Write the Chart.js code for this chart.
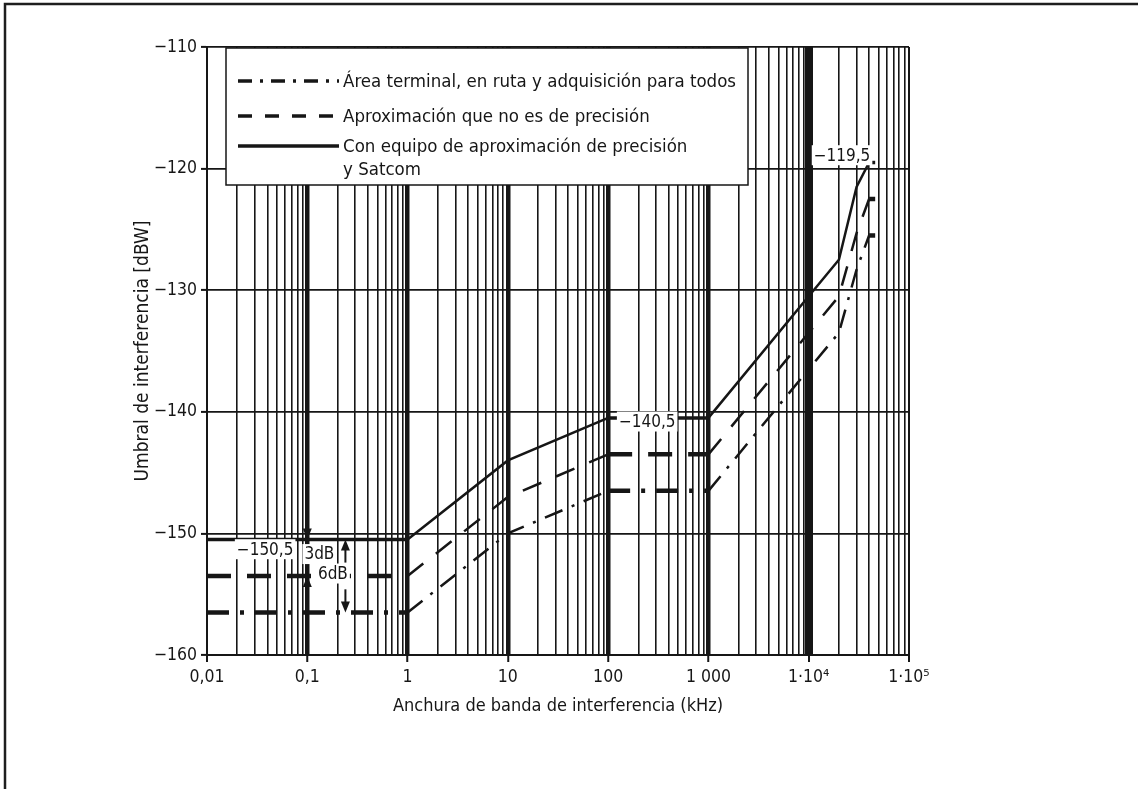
<!DOCTYPE html>
<html>
<head>
<meta charset="utf-8">
<title>Umbral de interferencia</title>
<script src="https://cdn.jsdelivr.net/npm/chart.js@4.4.1/dist/chart.umd.min.js"></script>
<style>
  html, body { margin: 0; padding: 0; background: #fff; }
  #wrap { width: 1138px; height: 789px; }
</style>
</head>
<body>
<div id="wrap"><canvas id="chart" width="1138" height="789"></canvas></div>
<script>
// Interference threshold vs. interference bandwidth (log x axis)

const FONT = "'Liberation Sans Narrow', 'DejaVu Sans Condensed', 'Arial Narrow', sans-serif";
const INK = '#161616';

// ============ DATA ============

const bandwidthKHz = [0.01, 1, 10, 100, 1000, 10000, 20000, 30000, 40000, 46000];
const thresholdAllPhases = [-156.5, -156.5, -150, -146.5, -146.5, -136.5, -133.5, -128.3, -125.5, -125.5];
const thresholdNonPrecision = [-153.5, -153.5, -147, -143.5, -143.5, -133.5, -130.5, -125.3, -122.5, -122.5];
const thresholdPrecision = [-150.5, -150.5, -144, -140.5, -140.5, -130.5, -127.5, -121.5, -119.5, -119.5];

const seriesNames = [
  'Área terminal, en ruta y adquisición para todos',
  'Aproximación que no es de precisión',
  'Con equipo de aproximación de precisión\ny Satcom'
];

const xTickValues = [0.01, 0.1, 1, 10, 100, 1000, 1e4, 1e5];
const xTickLabels = ['0,01', '0,1', '1', '10', '100', '1 000', '1·10⁴', '1·10⁵'];
const yTickValues = [-160, -150, -140, -130, -120, -110];
const yTickLabels = ['−160', '−150', '−140', '−130', '−120', '−110'];

// value notes written on the plot
const noteX = [0.038, 245, 21500, 0.132, 0.18];
const noteY = [-151.3, -140.8, -118.9, -151.7, -153.3];
const noteText = ['−150,5', '−140,5', '−119,5', '3dB', '6dB'];

// dB offset arrows (tip at arrowTo)
const arrowX = [0.1, 0.1, 0.24, 0.24];
const arrowFrom = [-148.2, -155.8, -152.4, -154.6];
const arrowTo = [-150.5, -153.5, -150.5, -156.5];

// ============ HELPERS ============

function isDecade(v) {
  const l = Math.log10(v);
  return Math.abs(l - Math.round(l)) < 1e-9;
}

function xGridWidth(v) {
  if (v === undefined) return 1.5;
  if (Math.abs(v - 1e4) < 1e-6) return 8;
  if (Math.abs(v - 0.01) < 1e-9 || Math.abs(v - 1e5) < 1e-6) return 2;
  if (isDecade(v)) return 4.5;
  return 1.6;
}

function isFlat(ctx) {
  return ctx.p0.parsed.y === ctx.p1.parsed.y;
}

function toPoints(ys) {
  return bandwidthKHz.map((x, i) => ({ x: x, y: ys[i] }));
}

function allXTicks() {
  const ticks = [];
  for (let d = 0; d < xTickValues.length - 1; d++) {
    for (let m = 1; m <= 9; m++) {
      ticks.push({ value: +(xTickValues[d] * m).toPrecision(6) });
    }
  }
  ticks.push({ value: xTickValues[xTickValues.length - 1] });
  return ticks;
}

// ============ PLUGIN: frame, legend, notes ============

const decorations = {
  id: 'decorations',
  beforeDraw(chart) {
    const ctx = chart.ctx;
    ctx.save();
    ctx.fillStyle = '#fff';
    ctx.fillRect(0, 0, chart.width, chart.height);
    ctx.strokeStyle = '#1e1e1e';
    ctx.lineWidth = 2.5;
    ctx.beginPath();
    ctx.moveTo(5, chart.height);
    ctx.lineTo(5, 4);
    ctx.lineTo(chart.width, 4);
    ctx.stroke();
    ctx.restore();
  },
  afterDatasetsDraw(chart) {
    const ctx = chart.ctx;
    const area = chart.chartArea;
    const xs = chart.scales.x, ys = chart.scales.y;
    ctx.save();

    // legend box
    const bx = area.left + 19, by = area.top + 1, bw = 522, bh = 137;
    ctx.fillStyle = '#fff';
    ctx.fillRect(bx, by, bw, bh);
    ctx.strokeStyle = INK;
    ctx.lineWidth = 1.5;
    ctx.strokeRect(bx, by, bw, bh);

    const rowY = [by + 33, by + 68, by + 98];
    ctx.font = '18.5px ' + FONT;
    ctx.textBaseline = 'middle';
    ctx.textAlign = 'left';
    chart.data.datasets.forEach((ds, i) => {
      ctx.strokeStyle = INK;
      ctx.lineWidth = 3.5;
      ctx.setLineDash(ds.legendDash);
      ctx.beginPath();
      ctx.moveTo(bx + 12, rowY[i]);
      ctx.lineTo(bx + 113, rowY[i]);
      ctx.stroke();
      ctx.setLineDash([]);
      ctx.fillStyle = INK;
      seriesNames[i].split('\n').forEach((line, k) => {
        ctx.fillText(line, bx + 117, rowY[i] + 1 + k * 23);
      });
    });

    // value notes with white background
    ctx.font = '17px ' + FONT;
    ctx.textAlign = 'center';
    noteText.forEach((t, i) => {
      const px = xs.getPixelForValue(noteX[i]);
      const py = ys.getPixelForValue(noteY[i]);
      const w = ctx.measureText(t).width;
      ctx.fillStyle = '#fff';
      ctx.fillRect(px - w / 2 - 2, py - 10, w + 4, 20);
      ctx.fillStyle = INK;
      ctx.fillText(t, px, py + 1);
    });

    // arrows
    ctx.strokeStyle = INK;
    ctx.fillStyle = INK;
    arrowX.forEach((ax, i) => {
      const px = xs.getPixelForValue(ax);
      const y1 = ys.getPixelForValue(arrowFrom[i]);
      const y2 = ys.getPixelForValue(arrowTo[i]);
      const dir = y2 > y1 ? 1 : -1;
      ctx.lineWidth = 2;
      ctx.beginPath();
      ctx.moveTo(px, y1);
      ctx.lineTo(px, y2 - dir * 8);
      ctx.stroke();
      ctx.beginPath();
      ctx.moveTo(px, y2);
      ctx.lineTo(px - 4.5, y2 - dir * 11);
      ctx.lineTo(px + 4.5, y2 - dir * 11);
      ctx.closePath();
      ctx.fill();
    });

    ctx.restore();
  }
};

// ============ CHART ============

function lineSet(label, ys, flatW, slopeW, flatDash, slopeDash, legendDash) {
  return {
    label: label,
    data: toPoints(ys),
    borderColor: INK,
    borderWidth: slopeW,
    borderDash: slopeDash,
    borderCapStyle: 'butt',
    legendDash: legendDash,
    pointRadius: 0,
    tension: 0,
    segment: {
      borderWidth: ctx => isFlat(ctx) ? flatW : slopeW,
      borderDash: ctx => isFlat(ctx) ? flatDash : slopeDash
    }
  };
}

new Chart(document.getElementById('chart'), {
  type: 'line',
  data: {
    datasets: [
      lineSet(seriesNames[0], thresholdAllPhases, 4.5, 2.5, [22, 11, 4, 11], [19, 10, 3, 10], [14, 8, 3, 8]),
      lineSet(seriesNames[1], thresholdNonPrecision, 4.5, 2.5, [24, 16], [20, 16], [14, 13]),
      lineSet(seriesNames[2], thresholdPrecision, 3.5, 2.5, [], [], [])
    ]
  },
  options: {
    responsive: false,
    animation: false,
    devicePixelRatio: 1,
    layout: { padding: { left: 0, top: 47, right: 229, bottom: 0 } },
    plugins: {
      legend: { display: false },
      tooltip: { enabled: false }
    },
    scales: {
      x: {
        type: 'logarithmic',
        min: 0.01,
        max: 1e5,
        afterBuildTicks: scale => { scale.ticks = allXTicks(); },
        afterFit: scale => { scale.height = 134; },
        ticks: {
          autoSkip: false,
          maxRotation: 0,
          padding: 5,
          color: INK,
          font: { family: FONT, size: 17.5 },
          callback: (v, i) => (i % 9 === 0 ? xTickLabels[i / 9] : '')
        },
        grid: {
          color: INK,
          lineWidth: ctx => xGridWidth(ctx.tick && ctx.tick.value),
          tickLength: 7,
          tickWidth: 2,
          tickColor: ctx => (ctx.tick && isDecade(ctx.tick.value) ? INK : 'rgba(0,0,0,0)')
        },
        border: { color: INK, width: 2 },
        title: {
          display: true,
          text: 'Anchura de banda de interferencia (kHz)',
          color: INK,
          font: { family: FONT, size: 18 },
          padding: { top: 0, bottom: 72 }
        }
      },
      y: {
        min: -160,
        max: -110,
        afterBuildTicks: scale => { scale.ticks = yTickValues.map(v => ({ value: v })); },
        afterFit: scale => { scale.width = 207; },
        ticks: {
          padding: 4,
          color: INK,
          font: { family: FONT, size: 17.5 },
          callback: (v, i) => yTickLabels[i]
        },
        grid: {
          color: INK,
          lineWidth: 1.8,
          tickLength: 6,
          tickWidth: 2
        },
        border: { color: INK, width: 2 },
        title: {
          display: true,
          text: 'Umbral de interferencia [dBW]',
          color: INK,
          font: { family: FONT, size: 19 },
          padding: { top: 132, bottom: 0 }
        }
      }
    }
  },
  plugins: [decorations]
});
</script>
</body>
</html>
